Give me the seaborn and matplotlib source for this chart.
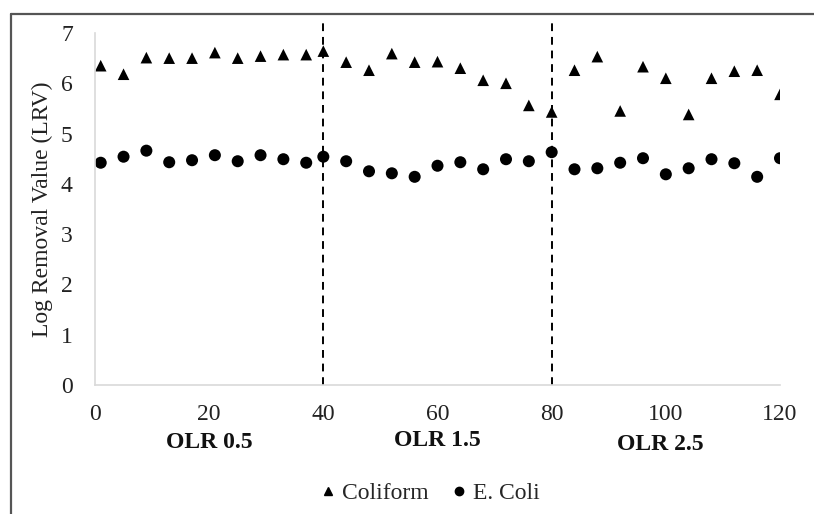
import pandas as pd
import seaborn as sns
import matplotlib.pyplot as plt
import matplotlib.transforms as mtransforms
from matplotlib.lines import Line2D

# days of operation
days = [1, 5, 9, 13, 17, 21, 25, 29, 33, 37, 40, 44, 48, 52, 56, 60, 64, 68, 72, 76,
        80, 84, 88, 92, 96, 100, 104, 108, 112, 116, 120]
coliform = [6.35, 6.18, 6.51, 6.50, 6.50, 6.61, 6.50, 6.54, 6.57, 6.57, 6.64, 6.42,
            6.26, 6.59, 6.42, 6.43, 6.30, 6.06, 6.00, 5.56, 5.43, 6.26, 6.53, 5.45,
            6.33, 6.10, 5.38, 6.10, 6.24, 6.26, 5.78]
ecoli = [4.42, 4.54, 4.66, 4.43, 4.47, 4.57, 4.45, 4.57, 4.49, 4.42, 4.54, 4.45,
         4.25, 4.21, 4.14, 4.36, 4.43, 4.29, 4.49, 4.45, 4.63, 4.29, 4.31, 4.42,
         4.51, 4.19, 4.31, 4.49, 4.41, 4.14, 4.51]
phase_breaks = [40, 80]
phase_labels = ["OLR 0.5", "OLR 1.5", "OLR 2.5"]
phase_centers = [20, 60, 99]

df = pd.DataFrame({"day": days, "Coliform": coliform, "E. Coli": ecoli})

sns.set_style("white")
plt.rcParams['font.family'] = ['Liberation Serif', 'DejaVu Serif']
fs = 17

fig = plt.figure(figsize=(8.14, 5.14), dpi=100)
ax = fig.add_axes([95/814, 1-385/514, (780-95)/814, (385-33)/514])

sns.scatterplot(data=df, x="day", y="Coliform", marker="^", s=70, color="black",
                edgecolor="none", ax=ax)
sns.scatterplot(data=df, x="day", y="E. Coli", marker="o", s=75, color="black",
                edgecolor="none", ax=ax)

for b in phase_breaks:
    ax.vlines(b, 0, 7.2, colors="black", linestyles=(0, (4, 3)), linewidth=1.4,
              clip_on=False, zorder=1)

ax.set_xlim(0, 120)
ax.set_ylim(0, 7)
ax.set_xticks(range(0, 121, 20))
ax.set_yticks(range(0, 8))
ax.tick_params(length=0, labelsize=fs, colors="#222222")
ax.tick_params(axis="x", pad=14)
ax.tick_params(axis="y", pad=16)
ax.set_xlabel("")
ax.set_ylabel("Log Removal Value (LRV)", fontsize=fs, color="#222222", labelpad=6)
for s in ["top", "right"]:
    ax.spines[s].set_visible(False)
for s in ["left", "bottom"]:
    ax.spines[s].set_color("#d9d9d9")
    ax.spines[s].set_linewidth(1.2)

trans = mtransforms.blended_transform_factory(ax.transData, fig.transFigure)
label_y = [443, 440, 445]
for lab, xc, yp in zip(phase_labels, phase_centers, label_y):
    ax.text(xc, 1-yp/514, lab, transform=trans, ha="center", va="center",
            fontsize=fs, fontweight="bold", color="#111111")

handles = [Line2D([], [], marker="^", color="black", linestyle="none", markersize=6),
           Line2D([], [], marker="o", color="black", linestyle="none", markersize=6)]
fig.legend(handles, ["Coliform", "E. Coli"], loc="center", bbox_to_anchor=(428/814, 1-493/514),
           ncol=2, frameon=False, fontsize=fs, handletextpad=0.1, columnspacing=0.8,
           handlelength=1.0)

# outer frame (left and top edges visible in the original crop)
fig.add_artist(Line2D([11/814, 11/814], [0, 1-14/514], color="#555555", linewidth=1.6))
fig.add_artist(Line2D([11/814, 1], [1-14/514, 1-14/514], color="#555555", linewidth=1.6))

fig.savefig("out.png", dpi=100)
